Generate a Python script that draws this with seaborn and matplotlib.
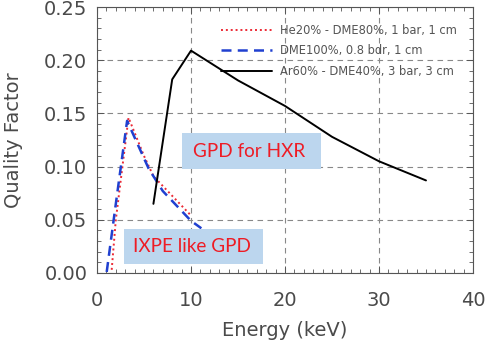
import matplotlib
matplotlib.use("Agg")
import matplotlib.pyplot as plt
import seaborn as sns
import pandas as pd
from matplotlib.patches import Rectangle
from matplotlib.ticker import MultipleLocator

# Data
he_energy = [1.56, 2.0, 3.35, 5.0, 6.0, 10.0]
he_qf = [0.003, 0.050, 0.146, 0.110, 0.091, 0.054]

dme_energy = [1.03, 2.0, 3.2, 5.5, 7.0, 10.0, 11.1]
dme_qf = [0.001, 0.065, 0.143, 0.098, 0.077, 0.049, 0.042]

ar_energy = [6.0, 8.0, 10.0, 15.0, 20.0, 25.0, 30.0, 35.0]
ar_qf = [0.065, 0.182, 0.209, 0.181, 0.157, 0.128, 0.105, 0.087]

labels = ["He20% - DME80%, 1 bar, 1 cm",
          "DME100%, 0.8 bdr, 1 cm",
          "Ar60% - DME40%, 3 bar, 3 cm"]

x_ticks = [0, 10, 20, 30, 40]
y_ticks = [0.00, 0.05, 0.10, 0.15, 0.20, 0.25]

sns.set_style("ticks")
plt.rcParams["font.family"] = ["DejaVu Sans"]

fig = plt.figure(figsize=(4.91, 3.45), dpi=100)
ax = fig.add_axes([0.1976, 0.2087, 0.7657, 0.771])

df_he = pd.DataFrame({"Energy": he_energy, "QF": he_qf})
df_dme = pd.DataFrame({"Energy": dme_energy, "QF": dme_qf})
df_ar = pd.DataFrame({"Energy": ar_energy, "QF": ar_qf})

sns.lineplot(data=df_he, x="Energy", y="QF", ax=ax, sort=False, color="#ec2a35",
             linestyle=(0, (1, 1.5)), linewidth=1.4, label=labels[0])
sns.lineplot(data=df_dme, x="Energy", y="QF", ax=ax, sort=False, color="#2040d0",
             linestyle=(0, (4, 2.5)), linewidth=1.8, label=labels[1])
sns.lineplot(data=df_ar, x="Energy", y="QF", ax=ax, sort=False, color="black",
             linewidth=1.4, label=labels[2])

ax.set_xlim(0, 40)
ax.set_ylim(0, 0.25)
ax.set_xticks(x_ticks)
ax.set_yticks(y_ticks)
ax.set_xticklabels([str(t) for t in x_ticks])
ax.set_yticklabels([f"{t:.2f}" for t in y_ticks])
ax.xaxis.set_minor_locator(MultipleLocator(1))
ax.yaxis.set_minor_locator(MultipleLocator(0.01))

ax.grid(True, which="major", linestyle=(0, (5, 4)), color="#888888", linewidth=0.8)
ax.tick_params(which="both", direction="in", top=True, right=True,
               colors="#555555", labelcolor="#4a4a4a")
ax.tick_params(which="major", length=5, width=0.7, labelsize=14)
ax.tick_params(axis="x", which="major", pad=13)
ax.tick_params(axis="y", which="major", pad=7)
ax.tick_params(which="minor", length=3, width=0.6)
for s in ax.spines.values():
    s.set_color("#555555")
    s.set_linewidth(0.8)

ax.set_xlabel("Energy (keV)", fontsize=14, color="#4a4a4a", labelpad=8)
ax.set_ylabel("Quality Factor", fontsize=14, color="#4a4a4a", labelpad=15)

leg = ax.legend(loc="upper left", bbox_to_anchor=(0.33, 0.937), frameon=False,
                fontsize=8.3, handlelength=4.4, handletextpad=0.7,
                labelspacing=0.66, borderpad=0, borderaxespad=0)
for t in leg.get_texts():
    t.set_color("#555555")

# Annotation boxes
box_color = "#bcd6ee"
ax.add_patch(Rectangle((9.05, 0.098), 14.75, 0.034, facecolor=box_color,
                       edgecolor="none", zorder=3))
ax.text(16.2, 0.1145, "GPD for HXR", color="#ee1c25", fontsize=13.6,
        family=["Lato", "DejaVu Sans"], ha="center", va="center", zorder=4)
ax.add_patch(Rectangle((2.87, 0.0082), 14.8, 0.033, facecolor=box_color,
                       edgecolor="none", zorder=3))
ax.text(10.1, 0.0245, "IXPE like GPD", color="#ee1c25", fontsize=13.6,
        family=["Lato", "DejaVu Sans"], ha="center", va="center", zorder=4)

fig.savefig("out.png", dpi=100)
